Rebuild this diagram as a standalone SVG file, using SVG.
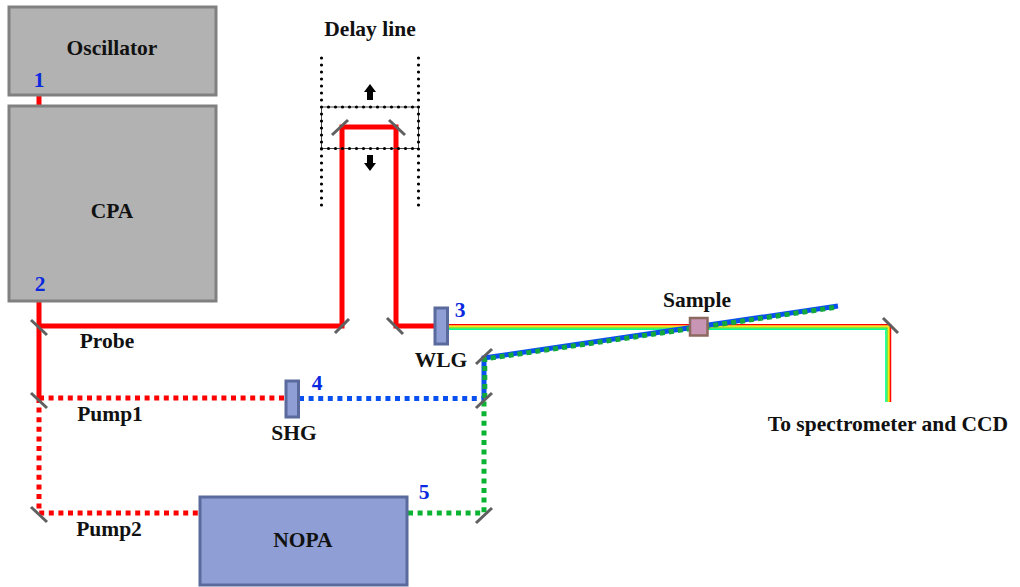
<svg xmlns="http://www.w3.org/2000/svg" width="1020" height="587" viewBox="0 0 1020 587">
<style>
text{font-family:"Liberation Serif","Times New Roman",serif;font-weight:bold;fill:#111}
.n{fill:#0a28e0;font-size:21.500px}
.l{font-size:21.500px}
.gray{fill:#b2b2b2;stroke:#808080;stroke-width:3}
.blue{fill:#8f9fd6;stroke:#5a6a9c;stroke-width:3}
.beam{fill:none;stroke-width:5}
.red{stroke:#ff0000}
.dot{stroke-dasharray:5 4.6}
.mirror{stroke:#606060;stroke-width:3;fill:none}
.guide{stroke:#000;stroke-width:3.200;stroke-linecap:round;stroke-dasharray:0 7;fill:none}
.rb{fill:none;stroke-width:1.300}
</style>
<g id="connectors">
<path class="beam red" d="M39 95V105M39 302V398"/>
<path class="beam red" d="M39 326H342V127H396V326H434"/>
<path class="beam red dot" d="M39 398V513H199M39 398H285"/>
<path class="beam dot" stroke="#0a50f0" d="M299 398.500H484"/>
<path class="beam dot" stroke="#0ab432" d="M408 513H484V400"/>
<polyline class="rb" stroke="#ff0000" points="448,324.600 890.600,324.600 890.600,402"/>
<polyline class="rb" stroke="#ffa000" points="448,325.800 889.400,325.800 889.400,402"/>
<polyline class="rb" stroke="#f4e800" points="448,327 888.200,327 888.200,402"/>
<polyline class="rb" stroke="#30e020" points="448,328.200 887,328.200 887,402"/>
<polyline class="rb" stroke="#00ff99" points="448,329.400 885.800,329.400 885.800,402"/>
<path class="beam" stroke="#0a50f0" d="M484 398V358L838 306"/>
<path class="beam" stroke="#12a83c" stroke-width="3.400" stroke-dasharray="5 4" d="M484.800 398V359L838 307"/>
<path class="mirror" d="M31 320L47 335M31 393L47 408M31 507L47 522M335 333L349 319M387 318L403 334M332 135L348 120M389 120L405 135M476 364L492 349M476 408L492 393M476 523L492 508M883 318L898 333"/>
</g>
<g id="delay-line">
<rect x="321.500" y="107" width="97" height="41.500" fill="none" stroke="#444" stroke-width="1"/>
<path class="guide" d="M321.500 58V205.100M418.500 58V205.100M321.500 107H418.600M321.500 148.500H418.600"/>
<path d="M370 84L376 92H373V100H367V92H364Z" fill="#000"/>
<path d="M370 171L376 163H373V155H367V163H364Z" fill="#000"/>
<text class="l" x="370" y="36" text-anchor="middle">Delay line</text>
</g>
<g id="oscillator"><rect class="gray" x="9" y="7" width="207" height="88"/><text class="l" x="112" y="55" text-anchor="middle">Oscillator</text></g>
<g id="cpa"><rect class="gray" x="9" y="106" width="207" height="195"/><text class="l" x="112" y="218" text-anchor="middle">CPA</text></g>
<g id="nopa"><rect class="blue" x="200" y="497" width="207" height="88"/><text class="l" x="303" y="547" text-anchor="middle">NOPA</text></g>
<g id="wlg"><rect class="blue" x="435" y="308" width="12.500" height="36"/><text class="l" x="441" y="367" text-anchor="middle">WLG</text></g>
<g id="shg"><rect class="blue" x="286" y="381" width="12.500" height="36"/><text class="l" x="294" y="440" text-anchor="middle">SHG</text></g>
<g id="sample"><rect x="690" y="318" width="17.500" height="17.500" fill="#c896b4" stroke="#8c6a60" stroke-width="2.500"/><text class="l" x="697" y="307" text-anchor="middle">Sample</text></g>
<g id="labels">
<text class="n" x="39" y="87" text-anchor="middle">1</text>
<text class="n" x="40" y="291" text-anchor="middle">2</text>
<text class="n" x="460" y="317" text-anchor="middle">3</text>
<text class="n" x="317" y="390" text-anchor="middle">4</text>
<text class="n" x="424" y="499" text-anchor="middle">5</text>
<text class="l" x="107" y="348" text-anchor="middle">Probe</text>
<text class="l" x="110" y="421" text-anchor="middle">Pump1</text>
<text class="l" x="109" y="536" text-anchor="middle">Pump2</text>
<text class="l" x="888" y="431" text-anchor="middle">To spectrometer and CCD</text>
</g>
</svg>
